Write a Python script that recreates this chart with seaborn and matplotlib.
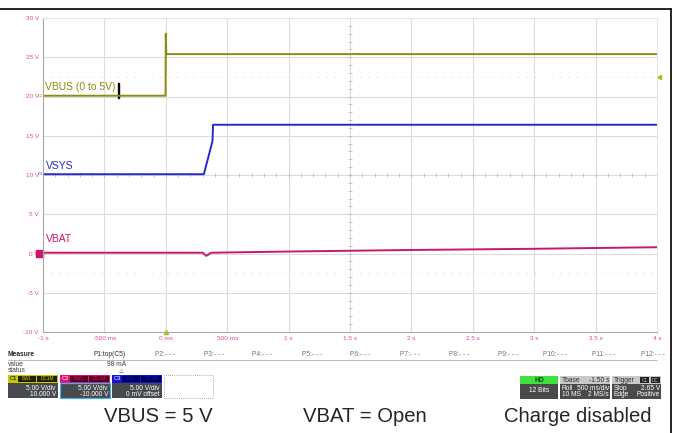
import numpy as np
import pandas as pd
import matplotlib.pyplot as plt
import seaborn as sns
from matplotlib.patches import Rectangle

# ---------------- data ----------------
vbus_t = [-1.0, -0.002, 0.0, 0.004, 4.0]
vbus_v = [20.1, 20.1, 28.0, 25.4, 25.4]

vsys_t = [-1.0, 0.31, 0.38, 0.385, 4.0]
vsys_v = [10.1, 10.1, 14.3, 16.4, 16.4]

vbat_t = [-1.0, 0.30, 0.33, 0.37, 1.0, 2.0, 3.0, 4.0]
vbat_v = [0.1, 0.1, -0.3, 0.1, 0.25, 0.45, 0.6, 0.8]

y_ticks = [30, 25, 20, 15, 10, 5, 0, -5, -10]
y_labels = ["30 V", "25 V", "20 V", "15 V", "10 V", "5 V", "0 V", "-5 V", "-10 V"]
x_ticks = [-1, -0.5, 0, 0.5, 1, 1.5, 2, 2.5, 3, 3.5, 4]
x_labels = ["-1 s", "-500 ms", "0 ms", "500 ms", "1 s", "1.5 s", "2 s",
            "2.5 s", "3 s", "3.5 s", "4 s"]

params = ["P1:top(C5)", "P2:- - -", "P3:- - -", "P4:- - -", "P5:- - -", "P6:- - -",
          "P7:- - -", "P8:- - -", "P9:- - -", "P10:- - -", "P11:- - -", "P12:- - -"]
captions = ["VBUS = 5 V", "VBAT = Open", "Charge disabled"]

OLIVE = "#8c8c10"
BLUE = "#2a2ac8"
MAG = "#c8186e"
PINK = "#e0489c"

sns.set_style("white")
plt.rcParams["font.family"] = ["Liberation Sans", "DejaVu Sans"]

W, H = 677, 433
fig = plt.figure(figsize=(W / 100, H / 100), dpi=100)


def fx(x):
    return x / W


def fy(y):
    return 1 - y / H


ax = fig.add_axes([fx(43), fy(332), fx(657) - fx(43), fy(18) - fy(332)])

traces = pd.concat([
    pd.DataFrame({"t": vbus_t, "v": vbus_v, "ch": "VBUS"}),
    pd.DataFrame({"t": vsys_t, "v": vsys_v, "ch": "VSYS"}),
    pd.DataFrame({"t": vbat_t, "v": vbat_v, "ch": "VBAT"}),
])

ax.set_xlim(-1, 4)
ax.set_ylim(-10, 30)

# grid
for x in x_ticks[1:-1]:
    ax.axvline(x, color="#dcdcdc", lw=0.8, zorder=0)
for y in y_ticks[1:-1]:
    ax.axhline(y, color="#dcdcdc", lw=0.8, zorder=0)
for y in [22.5, -2.5]:
    ax.axhline(y, color="#c8c8c8", lw=0.6, ls=(0, (1, 9)), zorder=0)
# centre crosshair minor ticks
ax.plot(np.arange(-1, 4.01, 0.1), np.full(51, 10), ls="none", marker="|",
        ms=3, color="#b0b0b0", mew=0.5, zorder=0)
ax.plot(np.full(41, 1.5), np.arange(-10, 30.01, 1), ls="none", marker="_",
        ms=3, color="#b0b0b0", mew=0.5, zorder=0)

sns.lineplot(data=traces, x="t", y="v", hue="ch", estimator=None, sort=False,
             palette={"VBUS": OLIVE, "VSYS": BLUE, "VBAT": MAG},
             linewidth=1.4, legend=False, ax=ax)

ax.set_xlabel("")
ax.set_ylabel("")
ax.set_xticks(x_ticks)
ax.set_yticks(y_ticks)
ax.set_xticklabels(x_labels, color=PINK, fontsize=4.6)
ax.set_yticklabels(y_labels, color=PINK, fontsize=4.6)
ax.tick_params(length=0, pad=3)
for s in ["top", "right"]:
    ax.spines[s].set_color("#e4e4e4")
for s in ["left", "bottom"]:
    ax.spines[s].set_color("#a8a8a8")
for s in ax.spines.values():
    s.set_linewidth(0.8)

# trace labels
ax.text(-0.98, 21.2, "VBUS (0 to 5V)", color=OLIVE, fontsize=7.5, va="center")
ax.add_patch(Rectangle((-0.39, 19.8), 0.012, 1.9, color="black", clip_on=False))
ax.text(-0.98, 11.2, "VSYS", color=BLUE, fontsize=7.5, va="center")
ax.text(-0.98, 1.8, "VBAT", color=MAG, fontsize=7.5, va="center")

# channel markers on left edge
ax.add_patch(Rectangle((-1.06, -0.5), 0.06, 1.0, color=MAG, clip_on=False))
ax.text(-1.0, 20.1, "C1", color=OLIVE, fontsize=3, ha="right", va="center")
ax.text(-1.0, 10.1, "C3", color=BLUE, fontsize=3, ha="right", va="center")
ax.plot([4.02], [22.5], marker="<", ms=3, color="#b8b820", clip_on=False)
ax.plot([0], [-10], marker="^", ms=3, color="#b8b820", clip_on=False)

# ---------------- measure table ----------------
fs = 4.8
fig.text(fx(8), fy(355), "Measure", fontsize=fs, weight="bold", va="center")
for i, p in enumerate(params):
    fig.text(fx(126 + 49 * i), fy(355), p, fontsize=fs, ha="right", va="center",
             color="#303030" if i == 0 else "#707070")
fig.add_artist(plt.Line2D([fx(8), fx(657)], [fy(360), fy(360)], color="#b0b0b0", lw=0.6))
fig.text(fx(8), fy(364), "value", fontsize=fs, va="center", color="#404040")
fig.text(fx(126), fy(364), "98 mA", fontsize=fs, ha="right", va="center", color="#404040")
fig.text(fx(8), fy(371), "status", fontsize=fs, va="center", color="#404040")
fig.text(fx(124), fy(371), "\u26a0", fontsize=4, ha="right", va="center",
         color="#404040", family=["DejaVu Sans"])


def box(x0, x1, y0, y1, fc, ec=None, lw=0.0, ls="-"):
    fig.add_artist(Rectangle((fx(x0), fy(y1)), fx(x1) - fx(x0), fy(y0) - fy(y1),
                             facecolor=fc, edgecolor=ec or fc, lw=lw, ls=ls,
                             transform=fig.transFigure))


chans = [
    ("C1", "#c8c800", "#202000", "10.000 V", None),
    ("C2", "#e0107a", "#500020", "-10.000 V", "#48b0e8"),
    ("C3", "#1414d0", "#000060", "0 mV offset", None),
]
for i, (name, hc, tc, off, border) in enumerate(chans):
    x0 = 8 + 52 * i
    x1 = x0 + 50
    box(x0, x1, 375, 383, hc)
    box(x1 - 40, x1 - 22, 376, 382, tc)
    box(x1 - 21, x1 - 1, 376, 382, tc)
    fig.text(fx(x0 + 2), fy(379), name, fontsize=4.2, va="center",
             color="black" if i == 0 else "white")
    fig.text(fx(x1 - 31), fy(379), "BWL", fontsize=3.4, va="center", ha="center", color=hc)
    fig.text(fx(x1 - 11), fy(379), "DC1M", fontsize=3.4, va="center", ha="center", color=hc)
    box(x0, x1, 383, 398, "#474b4f", ec=border, lw=0.9 if border else 0)
    fig.text(fx(x1 - 2), fy(388), "5.00 V/div", fontsize=fs, ha="right", va="center", color="white")
    fig.text(fx(x1 - 2), fy(395), off, fontsize=fs, ha="right", va="center", color="white")
box(164, 213, 375, 398, "none", ec="#909090", lw=0.6, ls=(0, (1, 1.5)))

# right side status boxes
box(520, 558, 376, 384, "#40e040")
box(520, 558, 384, 399, "#4a4a4a")
fig.text(fx(539), fy(380), "HD", fontsize=fs, ha="center", va="center", color="#104010", weight="bold")
fig.text(fx(539), fy(391), "12 Bits", fontsize=fs, ha="center", va="center", color="white")

box(560, 610, 376, 384, "#c8c8c8")
box(560, 610, 384, 399, "#4a4a4a")
fig.text(fx(562), fy(380), "Tbase", fontsize=fs, va="center", color="#303030")
fig.text(fx(609), fy(380), "-1.50 s", fontsize=fs, ha="right", va="center", color="#303030")
fig.text(fx(562), fy(388), "Roll", fontsize=fs, va="center", color="white")
fig.text(fx(609), fy(388), "500 ms/div", fontsize=fs, ha="right", va="center", color="white")
fig.text(fx(562), fy(395), "10 MS", fontsize=fs, va="center", color="white")
fig.text(fx(609), fy(395), "2 MS/s", fontsize=fs, ha="right", va="center", color="white")

box(612, 661, 376, 384, "#c8c8c8")
box(612, 661, 384, 399, "#4a4a4a")
box(640, 649, 377, 383, "#202020")
box(651, 660, 377, 383, "#202020")
fig.text(fx(614), fy(380), "Trigger", fontsize=fs, va="center", color="#303030")
fig.text(fx(644.5), fy(380), "C1", fontsize=3.4, ha="center", va="center", color="#c8c8c8")
fig.text(fx(655.5), fy(380), "DC", fontsize=3.4, ha="center", va="center", color="#c8c8c8")
fig.text(fx(614), fy(388), "Stop", fontsize=fs, va="center", color="white")
fig.text(fx(660), fy(388), "2.65 V", fontsize=fs, ha="right", va="center", color="white")
fig.text(fx(614), fy(395), "Edge", fontsize=fs, va="center", color="white")
fig.text(fx(660), fy(395), "Positive", fontsize=fs, ha="right", va="center", color="white")

# captions
for cx, cap in zip([158, 365, 578], captions):
    fig.text(fx(cx), fy(416), cap, fontsize=14.6, ha="center", va="center")

# outer frame
fig.add_artist(plt.Line2D([0, fx(671)], [fy(9), fy(9)], color="black", lw=1.2))
fig.add_artist(plt.Line2D([fx(671), fx(671)], [fy(9), 0], color="black", lw=1.2))

fig.savefig("out.png", dpi=100)
